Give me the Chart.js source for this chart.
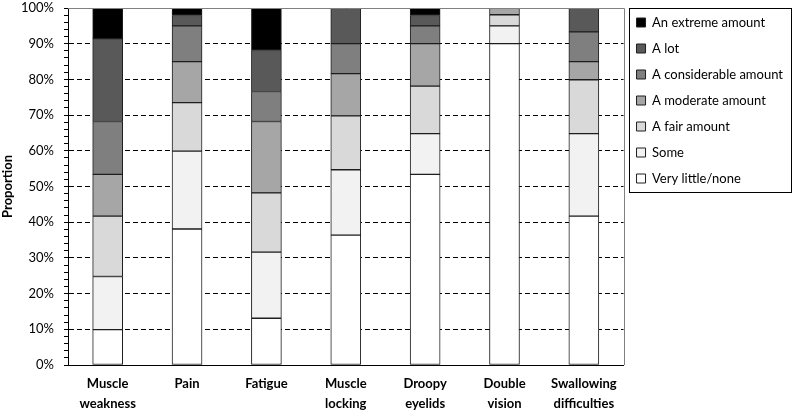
<!DOCTYPE html>
<html>
<head>
<meta charset="utf-8">
<script src="https://cdn.jsdelivr.net/npm/chart.js@4.4.1/dist/chart.umd.min.js"></script>
<style>
  body { margin: 0; background: #fff; }
</style>
</head>
<body>
<canvas id="chart" width="798" height="412"></canvas>
<script>
// categories and answer shares (percent of respondents)
const categories = [
    ['Muscle', 'weakness'], ['Pain'], ['Fatigue'], ['Muscle', 'locking'],
    ['Droopy', 'eyelids'], ['Double', 'vision'], ['Swallowing', 'difficulties']
];
const veryLittle   = [9.9, 38.1, 13.1, 36.4, 53.4, 90.0, 41.7];
const some         = [14.9, 21.8, 18.5, 18.3, 11.4, 5.0, 23.1];
const fairAmount   = [16.9, 13.6, 16.6, 15.1, 13.3, 3.1, 15.1];
const moderate     = [11.7, 11.5, 20.0, 11.8, 11.9, 1.9, 5.1];
const considerable = [14.8, 10.0, 8.4, 8.4, 5.0, 0, 8.3];
const aLot         = [23.2, 2.9, 11.5, 10.0, 2.9, 0, 6.7];
const extreme      = [8.6, 2.1, 11.9, 0, 2.1, 0, 0];
const yTicks = [0, 10, 20, 30, 40, 50, 60, 70, 80, 90, 100];

const font = "Lato, 'Open Sans', sans-serif";

function series(label, data, color) {
    return {
        label: label,
        data: data,
        backgroundColor: color,
        borderColor: '#1e1e1e',
        borderWidth: 1,
        borderSkipped: false,
        barThickness: 30
    };
}

// box around the legend + frame on top/right of the plot
const frames = {
    id: 'frames',
    afterDraw(chart) {
        const ctx = chart.ctx;
        const a = chart.chartArea;
        ctx.save();
        ctx.strokeStyle = '#808080';
        ctx.lineWidth = 1;
        ctx.beginPath();
        ctx.moveTo(a.left, Math.round(a.top) + 0.5);
        ctx.lineTo(Math.round(a.right) + 0.5, Math.round(a.top) + 0.5);
        ctx.lineTo(Math.round(a.right) + 0.5, a.bottom);
        ctx.stroke();
        const lg = chart.legend;
        const boxes = lg.legendHitBoxes;
        const first = boxes[0], last = boxes[boxes.length - 1];
        const top = Math.round(first.top + first.height / 2) - 15;
        const bottom = Math.round(last.top + last.height / 2) + 13;
        const left = Math.round(first.left) - 8;
        ctx.strokeStyle = '#000';
        ctx.strokeRect(left + 0.5, top + 0.5, 791 - left, bottom - top);
        ctx.restore();
    }
};

new Chart(document.getElementById('chart'), {
    type: 'bar',
    data: {
        labels: categories,
        datasets: [
            series('Very little/none', veryLittle, '#ffffff'),
            series('Some', some, '#f2f2f2'),
            series('A fair amount', fairAmount, '#d9d9d9'),
            series('A moderate amount', moderate, '#a6a6a6'),
            series('A considerable amount', considerable, '#7f7f7f'),
            series('A lot', aLot, '#595959'),
            series('An extreme amount', extreme, '#000000')
        ]
    },
    options: {
        responsive: false,
        animation: false,
        layout: { padding: { top: 3, left: 0, right: 5, bottom: 0 } },
        plugins: {
            tooltip: { enabled: false },
            legend: {
                display: true,
                position: 'right',
                align: 'start',
                reverse: true,
                labels: {
                    boxWidth: 9,
                    boxHeight: 9,
                    padding: 13,
                    color: '#000',
                    font: { family: font, size: 13 }
                }
            }
        },
        scales: {
            x: {
                stacked: true,
                grid: { display: false, drawTicks: false },
                border: { display: true, color: '#000', width: 1 },
                afterFit(scale) {
                    scale.height = 47;
                },
                ticks: {
                    color: '#000',
                    padding: 9,
                    font: { family: font, size: 13, weight: 'bold', lineHeight: 1.55 },
                    maxRotation: 0
                }
            },
            y: {
                stacked: true,
                min: 0,
                max: 100,
                afterBuildTicks(scale) {
                    // minor tick every 2%, labelled only on the 10% steps
                    const list = [];
                    for (let v = 0; v <= 100; v += 2) list.push({ value: v });
                    scale.ticks = list;
                },
                afterFit(scale) {
                    scale.width = 68;
                    scale.paddingTop = 8;
                    scale.paddingBottom = 0;
                },
                border: { display: true, color: '#000', width: 1, dash: [5, 3] },
                grid: {
                    color: ctx => (ctx.tick && yTicks.includes(ctx.tick.value) && ctx.tick.value > 0 && ctx.tick.value < 100) ? '#000' : 'rgba(0,0,0,0)',
                    tickColor: '#000',
                    tickLength: 4,
                    tickBorderDash: [],
                    lineWidth: 1
                },
                ticks: {
                    autoSkip: false,
                    color: '#000',
                    padding: 10,
                    font: { family: font, size: 13 },
                    callback: v => yTicks.includes(v) ? v + '%' : ''
                },
                title: {
                    display: true,
                    text: 'Proportion',
                    color: '#000',
                    padding: 0,
                    font: { family: font, size: 13, weight: 'bold' }
                }
            }
        }
    },
    plugins: [frames]
});
</script>
</body>
</html>
